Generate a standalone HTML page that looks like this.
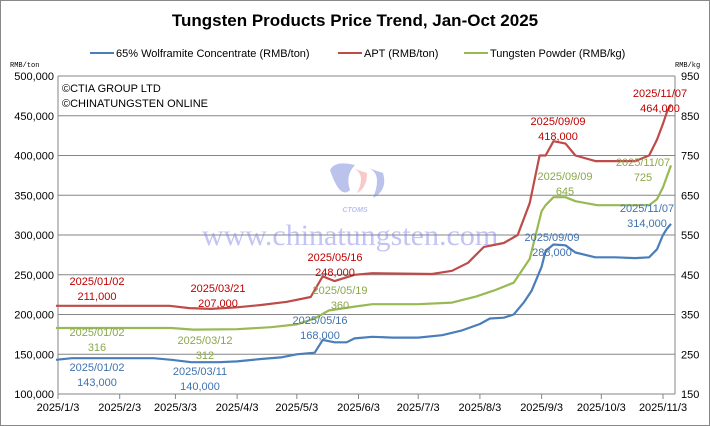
<!DOCTYPE html>
<html><head><meta charset="utf-8"><style>
body{margin:0;background:#fff;}
svg{display:block;font-family:"Liberation Sans",sans-serif;}
</style></head><body>
<svg id="chart" width="710" height="426">
<rect x="0.5" y="0.5" width="709" height="425" fill="#fff" stroke="#888"/>
<text x="355" y="26" text-anchor="middle" font-size="17" font-weight="bold">Tungsten Products Price Trend, Jan-Oct 2025</text>
<g font-size="11">
<line x1="90" y1="53" x2="114" y2="53" stroke="#4a7ebb" stroke-width="2"/><text x="116" y="57">65% Wolframite Concentrate (RMB/ton)</text>
<line x1="338" y1="53" x2="362" y2="53" stroke="#be4b48" stroke-width="2"/><text x="364" y="57">APT (RMB/ton)</text>
<line x1="464" y1="53" x2="488" y2="53" stroke="#98b954" stroke-width="2"/><text x="490" y="57">Tungsten Powder (RMB/kg)</text>
</g>
<text x="10" y="67" font-size="7" font-family="Liberation Mono,monospace">RMB/ton</text>
<text x="675" y="67" font-size="7" font-family="Liberation Mono,monospace">RMB/kg</text>
<g id="grid"></g><g id="axes"></g>
<g opacity="0.45">
<path d="M330 170 q10 30 20 20 q-5 -15 5 -25 q-20 -5 -25 5z" fill="#6a7bd8"/>
<path d="M352 168 q15 5 5 25 q10 -5 10 -20z" fill="#e88"/>
<path d="M368 168 q15 5 5 30 q15 -8 10 -25z" fill="#6a7bd8"/>
<text x="355" y="212" text-anchor="middle" font-size="7" font-style="italic" font-weight="bold" fill="#6a7bd8">CTOMS</text>
<text x="350" y="245" text-anchor="middle" font-size="30" font-family="Liberation Serif,serif" fill="#7b7be8">www.chinatungsten.com</text>
</g>
<text x="62" y="92" font-size="11">©CTIA GROUP LTD</text>
<text x="62" y="107" font-size="11">©CHINATUNGSTEN ONLINE</text>
<g id="series"></g><g id="labels" font-size="11"></g>
</svg>
<script>
const wolfDates=["2025-01-02","2025-01-10","2025-02-20","2025-03-01","2025-03-11","2025-03-25","2025-04-03","2025-04-15","2025-04-25","2025-05-03","2025-05-12","2025-05-16","2025-05-22","2025-05-28","2025-06-01","2025-06-10","2025-06-20","2025-07-03","2025-07-15","2025-07-25","2025-08-03","2025-08-08","2025-08-15","2025-08-20","2025-08-25","2025-08-29","2025-09-03","2025-09-05","2025-09-09","2025-09-15","2025-09-20","2025-09-30","2025-10-10","2025-10-20","2025-10-27","2025-10-31","2025-11-03","2025-11-05","2025-11-07"];
const wolfValues=[143000,145000,145000,143000,140000,140000,141000,144000,146000,150000,152000,168000,165000,165000,170000,172000,171000,171000,174000,180000,188000,195000,196000,200000,215000,230000,260000,280000,288000,287000,278000,272000,272000,271000,272000,282000,300000,308000,314000];
const aptDates=["2025-01-02","2025-02-28","2025-03-10","2025-03-21","2025-04-03","2025-04-15","2025-04-28","2025-05-10","2025-05-16","2025-05-22","2025-06-01","2025-06-10","2025-07-10","2025-07-20","2025-07-28","2025-08-05","2025-08-15","2025-08-22","2025-08-28","2025-09-02","2025-09-05","2025-09-09","2025-09-15","2025-09-20","2025-09-30","2025-10-20","2025-10-27","2025-10-31","2025-11-03","2025-11-05","2025-11-07"];
const aptValues=[211000,211000,208000,207000,209000,212000,216000,222000,248000,242000,250000,252000,251000,255000,265000,285000,290000,300000,340000,400000,400000,418000,415000,400000,393000,393000,400000,420000,440000,455000,464000];
const powDates=["2025-01-02","2025-03-01","2025-03-12","2025-04-03","2025-04-20","2025-05-03","2025-05-12","2025-05-19","2025-06-01","2025-06-10","2025-07-03","2025-07-20","2025-08-01","2025-08-10","2025-08-20","2025-08-28","2025-09-03","2025-09-05","2025-09-09","2025-09-15","2025-09-20","2025-10-01","2025-10-27","2025-10-31","2025-11-03","2025-11-07"];
const powValues=[316,316,312,313,318,325,340,360,370,376,376,380,395,410,430,490,610,625,645,645,635,625,625,640,670,725];
const leftTicks=[100000,150000,200000,250000,300000,350000,400000,450000,500000];
const rightTicks=[150,250,350,450,550,650,750,850,950];
const xTicks=["2025-01-03","2025-02-03","2025-03-03","2025-04-03","2025-05-03","2025-06-03","2025-07-03","2025-08-03","2025-09-03","2025-10-03","2025-11-03"];
const xTickLabels=["2025/1/3","2025/2/3","2025/3/3","2025/4/3","2025/5/3","2025/6/3","2025/7/3","2025/8/3","2025/9/3","2025/10/3","2025/11/3"];
const annotations=[
 {t:"2025/01/02",v:"211,000",x:62,y:285,c:"#c00000"},
 {t:"2025/03/21",v:"207,000",x:183,y:292,c:"#c00000"},
 {t:"2025/05/16",v:"248,000",x:300,y:261,c:"#c00000"},
 {t:"2025/09/09",v:"418,000",x:523,y:125,c:"#c00000"},
 {t:"2025/11/07",v:"464,000",x:625,y:97,c:"#c00000"},
 {t:"2025/01/02",v:"316",x:62,y:336,c:"#8aa84a"},
 {t:"2025/03/12",v:"312",x:170,y:344,c:"#8aa84a"},
 {t:"2025/05/19",v:"360",x:305,y:294,c:"#8aa84a"},
 {t:"2025/09/09",v:"645",x:530,y:180,c:"#8aa84a"},
 {t:"2025/11/07",v:"725",x:608,y:166,c:"#8aa84a"},
 {t:"2025/01/02",v:"143,000",x:62,y:371,c:"#3f72af"},
 {t:"2025/03/11",v:"140,000",x:165,y:375,c:"#3f72af"},
 {t:"2025/05/16",v:"168,000",x:285,y:324,c:"#3f72af"},
 {t:"2025/09/09",v:"288,000",x:517,y:241,c:"#3f72af"},
 {t:"2025/11/07",v:"314,000",x:612,y:212,c:"#3f72af"}];
const NS="http://www.w3.org/2000/svg";
const X0=58,X1=675,Y0=394,Y1=76;
const base=Date.UTC(2025,0,3);
function d(s){const p=s.split("-");return (Date.UTC(+p[0],+p[1]-1,+p[2])-base)/864e5;}
function xs(s){return X0+d(s)*(605/304);}
function yl(v){return Y0-(v-100000)/400000*(Y0-Y1);}
function yr(v){return Y0-(v-150)/800*(Y0-Y1);}
function mk(tag,attrs,parent){const e=document.createElementNS(NS,tag);for(const k in attrs)e.setAttribute(k,attrs[k]);parent.appendChild(e);return e;}
const grid=document.getElementById("grid"),axes=document.getElementById("axes");
leftTicks.forEach((v,i)=>{
 const y=yl(v);
 const l=mk("line",{x1:X0,x2:X1,y1:y,y2:y,stroke:"#868686","stroke-width":1},grid);
 
 
 const t=mk("text",{x:X0-4,y:y+4,"text-anchor":"end","font-size":11},axes);t.textContent=v.toLocaleString("en-US");
 
 
 const r=mk("text",{x:X1+6,y:yr(rightTicks[i])+4,"font-size":11},axes);r.textContent=rightTicks[i];
 
 
});
mk("line",{x1:X0,x2:X0,y1:Y1,y2:Y0,stroke:"#868686"},axes);
mk("line",{x1:X1,x2:X1,y1:Y1,y2:Y0,stroke:"#868686"},axes);
xTicks.forEach((s,i)=>{
 const x=xs(s);
 mk("line",{x1:x,x2:x,y1:Y0,y2:Y0+5,stroke:"#868686"},axes);
 const t=mk("text",{x:x,y:Y0+17,"text-anchor":"middle","font-size":11},axes);t.textContent=xTickLabels[i];
 
 
});
const ser=document.getElementById("series");
function line(ds,vs,yf,col,name){
 const p=ds.map((s,i)=>xs(s).toFixed(1)+","+yf(vs[i]).toFixed(1)).join(" ");
 const e=mk("polyline",{points:p,fill:"none",stroke:col,"stroke-width":2.2,"stroke-linejoin":"round"},ser);
 
 
}
line(wolfDates,wolfValues,yl,"#4a7ebb","wolframite-line");
line(aptDates,aptValues,yl,"#be4b48","apt-line");
line(powDates,powValues,yr,"#98b954","powder-line");
const lab=document.getElementById("labels");
annotations.forEach(a=>{
 const t=mk("text",{x:a.x+35,y:a.y,"text-anchor":"middle",fill:a.c},lab);t.textContent=a.t;
 
 
 const v=mk("text",{x:a.x+35,y:a.y+15,"text-anchor":"middle",fill:a.c},lab);v.textContent=a.v;
 
 
});
</script>
</body></html>
